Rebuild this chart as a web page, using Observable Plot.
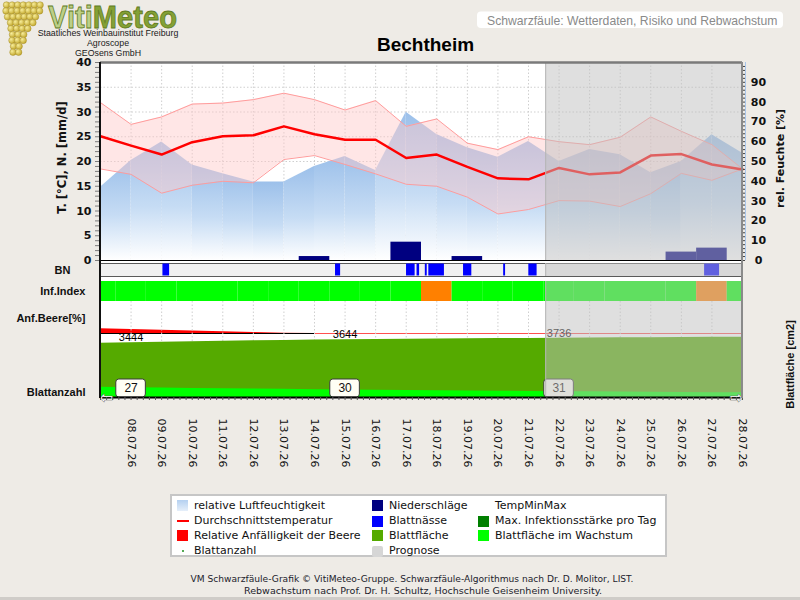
<!DOCTYPE html>
<html lang="de">
<head>
<meta charset="utf-8">
<title>Schwarzfäule – Bechtheim</title>
<script src="https://cdn.jsdelivr.net/npm/d3@7"></script>
<script src="https://cdn.jsdelivr.net/npm/@observablehq/plot@0.6"></script>
<style>
  html, body { margin: 0; padding: 0; background: #eeebe6; }
  #page { position: relative; width: 800px; height: 600px; overflow: hidden; background: #eeebe6; }
  #page > * { position: absolute; }
  .lg { font: 11px "DejaVu Sans", sans-serif; color: #111; line-height: 13px; white-space: nowrap; }
  .sw { width: 11px; height: 11px; }
</style>
</head>
<body>
<div id="page"></div>
<script>
// ---- daily values, 07.07.–28.07.2026 ----
const dates = ["2026-07-07","2026-07-08","2026-07-09","2026-07-10","2026-07-11","2026-07-12","2026-07-13",
  "2026-07-14","2026-07-15","2026-07-16","2026-07-17","2026-07-18","2026-07-19","2026-07-20","2026-07-21",
  "2026-07-22","2026-07-23","2026-07-24","2026-07-25","2026-07-26","2026-07-27","2026-07-28"];
const tMean = [25.1, 23.2, 21.4, 23.9, 25.1, 25.3, 27.1, 25.5, 24.4, 24.4, 20.7, 21.4, 18.9, 16.6, 16.4, 18.7, 17.4, 17.8, 21.2, 21.5, 19.4, 18.4];
const tMax  = [31.9, 27.5, 29.0, 31.6, 31.8, 32.5, 33.8, 32.5, 30.4, 32.3, 27.1, 28.6, 23.7, 22.4, 25.0, 24.0, 23.4, 24.9, 29.0, 26.1, 23.4, 18.5];
const tMin  = [18.5, 17.4, 13.6, 15.2, 16.0, 15.7, 20.4, 21.2, 19.4, 17.5, 15.4, 15.0, 12.8,  9.4, 10.3, 12.1, 12.0, 10.9, 13.5, 17.6, 16.2, 18.5];
const humidity = [37.0, 50.5, 59.8, 48.2, 43.8, 39.6, 39.6, 47.5, 52.5, 45.5, 74.9, 63.6, 56.9, 52.2, 60.1, 50.0, 56.1, 53.4, 44.3, 50.0, 63.5, 54.2];
const precip = [0, 0, 0, 0, 0, 0, 0, 0.8, 0, 0, 3.7, 0, 0.8, 0, 0, 0, 0, 0, 0, 1.7, 2.5, 0];
const infIndex = ["gering","gering","gering","gering","gering","gering","gering","gering","gering","gering","gering",
  "mittel","gering","gering","gering","gering","gering","gering","gering","gering","mittel","gering"];
const berrySusc = [15.2, 12.8, 10.3, 8.2, 5.7, 3.4, 1.1, 0, 0, 0, 0, 0, 0, 0, 0, 0, 0, 0, 0, 0, 0, 0];
const leafArea = [3420, 3444, 3478, 3510, 3540, 3570, 3598, 3622, 3644, 3660, 3674, 3688, 3700, 3712, 3724, 3736, 3748, 3760, 3770, 3780, 3790, 3800];
const leafGrowing = [650, 620, 600, 575, 555, 535, 515, 495, 475, 458, 440, 425, 410, 395, 380, 368, 355, 343, 330, 318, 305, 295];

// leaf wetness periods
const bnStart = ["2026-07-09T01:00","2026-07-14T16:30","2026-07-17T00:15","2026-07-17T08:30","2026-07-17T15:00",
  "2026-07-17T17:45","2026-07-18T21:00","2026-07-20T04:30","2026-07-21T00:15","2026-07-26T18:15"];
const bnEnd   = ["2026-07-09T06:15","2026-07-14T20:30","2026-07-17T07:00","2026-07-17T10:30","2026-07-17T16:30",
  "2026-07-18T06:00","2026-07-19T03:30","2026-07-20T06:00","2026-07-21T06:45","2026-07-27T06:00"];

// weekly labels
const labelDates = ["2026-07-08","2026-07-15","2026-07-22"];
const leafCount = [27, 30, 31];

const forecastStart = "2026-07-21T13:30";

const tempTicks = d3.range(0, 41, 5);
const humTicks = d3.range(0, 91, 10);

// ---- derived tables ----
const parseDay = d3.utcParse("%Y-%m-%d");
const parseTime = d3.utcParse("%Y-%m-%dT%H:%M");
const HOUR = 36e5;
const shift = (d, h) => new Date(+d + h * HOUR);
const HUM2T = 40 / 100; // right axis: 0–100 % on the same height as 0–40 °C

const rows = dates.map((s, i) => ({
  date: parseDay(s), tmean: tMean[i], tmax: tMax[i], tmin: tMin[i], hum: humidity[i] * HUM2T,
  precip: precip[i], inf: infIndex[i], berry: berrySusc[i], area: leafArea[i], grow: leafGrowing[i]
}));
const humSegs = [];
for (let i = 0; i < rows.length - 1; i++) {
  humSegs.push({seg: i, date: rows[i].date, v: rows[i].hum}, {seg: i, date: rows[i + 1].date, v: rows[i + 1].hum});
}
const bn = bnStart.map((s, i) => ({start: parseTime(s), end: parseTime(bnEnd[i])}));
const weekly = labelDates.map((s, i) => {
  const d = parseDay(s);
  const r = rows.find(r => +r.date === +d);
  return {date: d, count: leafCount[i], area: r.area};
});
const X0 = rows[0].date, X1 = rows[rows.length - 1].date;
const prog = {from: parseTime(forecastStart), to: X1};
const berryEnd = rows.find(r => r.berry === 0).date;
const dayTicks = rows.slice(1).map(r => r.date);
const LEAF_MAX = 6050;

const page = document.getElementById("page");
function put(el, top) { el.style.left = "0px"; el.style.top = top + "px"; page.appendChild(el); }

const common = {
  width: 800, marginLeft: 100, marginRight: 58,
  x: {type: "utc", domain: [X0, X1], axis: null},
  style: {background: "transparent", overflow: "visible", fontFamily: "'DejaVu Sans'", fontSize: "11px", color: "#000"}
};
const forecastMarks = (y1, y2) => [
  Plot.rect([prog], {x1: "from", x2: "to", y1, y2, fill: "#c0c0c0", fillOpacity: 0.5}),
  Plot.ruleX([prog], {x: "from", y1, y2, stroke: "#b4b4b4"})
];
const gridStyle = {stroke: "#cfcfcf", strokeOpacity: 1, strokeDasharray: "1.5,2"};

// gradient for the humidity strips
const defs = () => {
  const g = document.createElementNS("http://www.w3.org/2000/svg", "defs");
  g.innerHTML = `<linearGradient id="humGrad" x1="0" y1="0" x2="0" y2="1">
    <stop offset="0" stop-color="#9cc0ea"/><stop offset="0.55" stop-color="#c6dcf4"/><stop offset="1" stop-color="#ffffff"/></linearGradient>`;
  return g;
};

// ---- weather panel ----
const weather = Plot.plot({
  ...common, height: 215, marginTop: 12, marginBottom: 5,
  y: {domain: [0, 40], axis: null, label: null},
  marks: [
    defs,
    Plot.gridY(d3.range(5, 40, 5), gridStyle),
    Plot.gridX(dayTicks, gridStyle),
    Plot.areaY(humSegs, {x: "date", y1: 0, y2: "v", z: "seg", fill: "url(#humGrad)"}),
    Plot.areaY(rows, {x: "date", y1: "tmin", y2: "tmax", fill: "rgb(255,200,200)", fillOpacity: 0.45}),
    Plot.lineY(rows, {x: "date", y: "tmax", stroke: "#ff9c9c", strokeWidth: 1}),
    Plot.lineY(rows, {x: "date", y: "tmin", stroke: "#ff9c9c", strokeWidth: 1}),
    Plot.rectY(rows.filter(r => r.precip > 0), {x1: d => shift(d.date, -12), x2: d => shift(d.date, 12), y1: 0, y2: "precip", fill: "#000080"}),
    Plot.lineY(rows, {x: "date", y: "tmean", stroke: "#ff0000", strokeWidth: 2.5}),
    ...forecastMarks(0, 40),
    Plot.ruleY([0], {stroke: "#000", strokeWidth: 1}),
    Plot.ruleY([40], {stroke: "#7a7a7a", strokeWidth: 2.5}),
    Plot.ruleX([X1], {stroke: "#a9c6ea", dx: 3}),
    Plot.axisY(d3.range(0, 41, 1), {anchor: "left", tickSize: 5, tickFormat: () => "", stroke: "#7c7c7c", label: null}),
    Plot.axisY(tempTicks, {anchor: "left", tickSize: 0, tickPadding: 9, fontSize: 11, fontWeight: "bold", fill: "#111", label: null}),
    Plot.axisY(d3.range(0, 100, 2).map(h => h * HUM2T), {anchor: "right", tickSize: 2, tickFormat: () => "", stroke: "#444", label: null}),
    Plot.axisY(humTicks.map(h => h * HUM2T), {anchor: "right", tickSize: 0, tickPadding: 16, textAnchor: "middle",
      tickFormat: d => String(Math.round(d / HUM2T)), fontSize: 11, fontWeight: "bold", fill: "#111", label: null}),
    Plot.text(["T. [°C], N. [mm/d]"], {frameAnchor: "left", rotate: -90, textAnchor: "middle", dx: -38, dy: -4, fontSize: 11.5, fontWeight: "bold", fill: "#111"}),
    Plot.text(["rel. Feuchte [%]"], {frameAnchor: "right", rotate: -90, textAnchor: "middle", dx: 38, dy: -3, fontSize: 11, fontWeight: "bold", fill: "#111"})
  ]
});
put(weather, 50);

// ---- leaf wetness row ----
const bnPlot = Plot.plot({
  ...common, height: 17, marginTop: 2, marginBottom: 2,
  y: {domain: [0, 1], axis: null},
  marks: [
    Plot.frame({fill: "#f0f0f0", stroke: "#5a5a5a"}),
    Plot.rect(bn, {x1: "start", x2: "end", y1: 0.04, y2: 0.96, fill: "#0000ff"}),
    ...forecastMarks(0, 1),
    Plot.text(["BN"], {frameAnchor: "left", textAnchor: "middle", dx: -38, fontFamily: "Liberation Sans", fontSize: 11, fontWeight: "bold", fill: "#111"})
  ]
});
put(bnPlot, 261);

// ---- infection index row ----
const infPlot = Plot.plot({
  ...common, height: 24, marginTop: 2, marginBottom: 2,
  y: {domain: [0, 1], axis: null},
  color: {domain: ["gering", "mittel", "hoch"], range: ["#00ff00", "#ff8000", "#ff0000"]},
  marks: [
    Plot.rect(rows, {x1: d => shift(d.date, -12), x2: d => shift(d.date, 12), y1: 0, y2: 1, fill: "inf", clip: true}),
    ...forecastMarks(0, 1),
    Plot.text(["Inf.Index"], {frameAnchor: "left", dx: -15, textAnchor: "end", fontFamily: "Liberation Sans", fontSize: 11, fontWeight: "bold", fill: "#111"})
  ]
});
put(infPlot, 279);

// ---- berry susceptibility ----
const berryPlot = Plot.plot({
  ...common, height: 36, marginTop: 2, marginBottom: 2,
  y: {domain: [0, 100], axis: null},
  marks: [
    Plot.areaY(rows, {x: "date", y1: 0, y2: "berry", fill: "#ff0000"}),
    Plot.ruleY([0], {stroke: "#ff5050", strokeWidth: 1}),
    Plot.ruleY([0], {x1: X0, x2: berryEnd, stroke: "#000", strokeWidth: 1}),
    Plot.text(["Anf.Beere[%]"], {frameAnchor: "left", dx: -15, dy: 1, textAnchor: "end", fontFamily: "Liberation Sans", fontSize: 11, fontWeight: "bold", fill: "#111"})
  ]
});
put(berryPlot, 299);

// ---- leaf area, leaf count and date axis ----
const minorTicks = d3.range(0, 21 * 5 + 1).map(i => new Date(+X0 + i * 0.2 * 24 * HOUR));
const leafPlot = Plot.plot({
  ...common, height: 178, marginTop: 2, marginBottom: 80,
  y: {domain: [0, LEAF_MAX], axis: null},
  marks: [
    Plot.gridX(dayTicks, gridStyle),
    Plot.areaY(rows, {x: "date", y1: 0, y2: "area", fill: "#55aa00"}),
    Plot.areaY(rows, {x: "date", y1: 0, y2: "grow", fill: "#00ff00"}),
    Plot.text(weekly, {x: "date", y: "area", text: d => String(d.area), dy: -5, fontFamily: "Liberation Sans", fontSize: 11, fill: "#000"}),
    Plot.rect(weekly, {x1: d => shift(d.date, -11.6), x2: d => shift(d.date, 11.6), y1: 0, y2: LEAF_MAX, insetTop: 78,
      fill: "#fffff4", stroke: "#3a3a3a", rx: 3}),
    Plot.text(weekly, {x: "date", y: 0, text: d => String(d.count), dy: -9, fontFamily: "Liberation Sans", fontSize: 12, fill: "#111"}),
    ...forecastMarks(0, LEAF_MAX),
    Plot.ruleY([0], {stroke: "#000", strokeWidth: 2}),
    Plot.text(["⇦"], {x: X0, y: 0, textAnchor: "start", dx: -1, dy: 0, fontFamily: "DejaVu Sans", fontSize: 16, fill: "#fff", stroke: "#555", strokeWidth: 0.7}),
    Plot.text(["⇨"], {x: X1, y: 0, textAnchor: "end", dx: 1, dy: 0, fontFamily: "DejaVu Sans", fontSize: 16, fill: "#fff", stroke: "#555", strokeWidth: 0.7}),
    Plot.axisX(minorTicks, {anchor: "bottom", tickSize: 3, tickFormat: () => "", stroke: "#555", label: null}),
    Plot.axisX(dayTicks, {anchor: "bottom", tickSize: 0, tickPadding: 21, tickRotate: 90, textAnchor: "start", lineAnchor: "middle",
      tickFormat: d3.utcFormat("%d.%m.%y"), fontSize: 11, fill: "#111", label: null}),
    Plot.text(["Blattanzahl"], {frameAnchor: "bottom-left", dx: -15, dy: -2, textAnchor: "end", fontFamily: "Liberation Sans", fontSize: 11, fontWeight: "bold", fill: "#111"}),
    Plot.text(["Blattfläche [cm2]"], {frameAnchor: "right", rotate: -90, textAnchor: "middle", dx: 48, dy: 15, fontFamily: "Liberation Sans", fontSize: 11, fontWeight: "bold", fill: "#111"})
  ]
});
put(leafPlot, 299);

// frame lines shared by all panels
const leftLine = document.createElement("div");
leftLine.style.cssText = "left:99px;top:62px;width:2px;height:336px;background:#111;";
page.appendChild(leftLine);
const rightLine = document.createElement("div");
rightLine.style.cssText = "left:741px;top:62px;width:2px;height:336px;background:#8a8a8a;";
page.appendChild(rightLine);

// white plotting area behind the panels
const bg = document.createElement("div");
bg.style.cssText = "left:100px;top:62px;width:642px;height:335px;background:#fff;";
page.insertBefore(bg, page.firstChild);

// ---- header ----
let grapes = "";
[[7, 3.5], [7, 3.0], [6, 4.5], [5, 6.0], [4, 6.5], [3, 8.0], [3, 7.5], [2, 9.0], [2, 8.5]].forEach(([n, x0], j) => {
  for (let k = 0; k < n; k++) {
    const cx = x0 + 3 + k * 5.6 + (j > 2 ? 1.5 : 0);
    const cy = 5 + j * 5.9;
    grapes += `<circle cx="${cx}" cy="${cy}" r="3.3" fill="url(#grape)" stroke="#9a8420" stroke-width="0.4"/>`;
  }
});
const header = document.createElement("div");
header.style.cssText = "left:0;top:0;";
header.innerHTML = `<svg width="800" height="60" style="display:block">
  <defs><radialGradient id="grape" cx="0.35" cy="0.35" r="0.7">
    <stop offset="0" stop-color="#f6ec9a"/><stop offset="1" stop-color="#c2a62a"/></radialGradient></defs>
  ${grapes}
  <text x="48" y="28" font-family="Liberation Sans" font-weight="bold" font-size="31.5" textLength="129" lengthAdjust="spacingAndGlyphs"
    stroke="#5f7a1e" stroke-width="0.8"><tspan fill="#bccf88">Viti</tspan><tspan fill="#84a136">Meteo</tspan></text>
  <text x="108" y="35.5" text-anchor="middle" font-family="Liberation Sans" font-size="8.8" fill="#1a1a1a">Staatliches Weinbauinstitut Freiburg</text>
  <text x="108" y="45.5" text-anchor="middle" font-family="Liberation Sans" font-size="8.8" fill="#1a1a1a">Agroscope</text>
  <text x="108" y="56" text-anchor="middle" font-family="Liberation Sans" font-size="8.8" fill="#1a1a1a">GEOsens GmbH</text>
  <text x="425.5" y="50.5" text-anchor="middle" font-family="Liberation Sans" font-weight="bold" font-size="19" fill="#000">Bechtheim</text>
  <rect x="477" y="11.5" width="306" height="16.5" rx="4" fill="#fff"/>
  <text x="487" y="24.5" font-family="Liberation Sans" font-size="12.2" fill="#8a8a8a">Schwarzfäule: Wetterdaten, Risiko und Rebwachstum</text>
</svg>`;
page.appendChild(header);

// ---- legend ----
const legendBox = document.createElement("div");
legendBox.style.cssText = "left:170px;top:494px;width:493px;height:59px;background:#fff;border:2px solid #c6c6c6;";
page.appendChild(legendBox);
const legendCols = [[177, 194], [372, 389], [478, 495]];
const legendRows = [505.7, 521, 535.7, 551];
const legendItems = [
  {c: 0, r: 0, text: "relative Luftfeuchtigkeit", sw: "linear-gradient(#b4d0f0,#e6effa)"},
  {c: 0, r: 1, text: "Durchschnittstemperatur", sw: "line"},
  {c: 0, r: 2, text: "Relative Anfälligkeit der Beere", sw: "#ff0000"},
  {c: 0, r: 3, text: "Blattanzahl", sw: "dot"},
  {c: 1, r: 0, text: "Niederschläge", sw: "#000080"},
  {c: 1, r: 1, text: "Blattnässe", sw: "#0000ff"},
  {c: 1, r: 2, text: "Blattfläche", sw: "#55aa00"},
  {c: 1, r: 3, text: "Prognose", sw: "#d6d6d6"},
  {c: 2, r: 0, text: "TempMinMax", sw: null},
  {c: 2, r: 1, text: "Max. Infektionsstärke pro Tag", sw: "#007f00"},
  {c: 2, r: 2, text: "Blattfläche im Wachstum", sw: "#00ff00"}
];
for (const it of legendItems) {
  const [sx, tx] = legendCols[it.c];
  const cy = legendRows[it.r];
  if (it.sw === "line") {
    const s = document.createElement("div");
    s.style.cssText = `left:${sx}px;top:${cy - 1}px;width:12px;height:2px;background:#ff0000;`;
    page.appendChild(s);
  } else if (it.sw === "dot") {
    const s = document.createElement("div");
    s.style.cssText = `left:${sx + 5}px;top:${cy - 1}px;width:2px;height:2px;background:#5a5;`;
    page.appendChild(s);
  } else if (it.sw) {
    const s = document.createElement("div");
    s.className = "sw";
    s.style.cssText = `left:${sx}px;top:${cy - 5.5}px;background:${it.sw};` + (it.sw === "#d6d6d6" ? "border-radius:2px;" : "");
    page.appendChild(s);
  }
  const t = document.createElement("div");
  t.className = "lg";
  t.style.left = tx + "px";
  t.style.top = (cy - 7) + "px";
  t.textContent = it.text;
  page.appendChild(t);
}

// ---- footer ----
const footer = document.createElement("div");
footer.style.cssText = "left:0;top:570px;";
footer.innerHTML = `<svg width="800" height="30" style="display:block">
  <text x="412" y="12" text-anchor="middle" font-family="DejaVu Sans" font-size="9" textLength="443" lengthAdjust="spacingAndGlyphs" fill="#1c1c2c">VM Schwarzfäule-Grafik © VitiMeteo-Gruppe. Schwarzfäule-Algorithmus nach Dr. D. Molitor, LIST.</text>
  <text x="423" y="24" text-anchor="middle" font-family="DejaVu Sans" font-size="9" textLength="358" lengthAdjust="spacingAndGlyphs" fill="#1c1c2c">Rebwachstum nach Prof. Dr. H. Schultz, Hochschule Geisenheim University.</text>
  <rect x="0" y="27" width="800" height="3" fill="#cfccc8"/>
</svg>`;
page.appendChild(footer);
</script>
</body>
</html>
